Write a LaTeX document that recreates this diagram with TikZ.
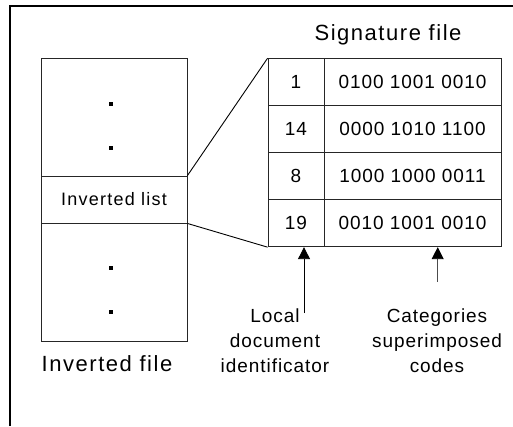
\documentclass[tikz,border=0pt]{standalone}
\usepackage{fontspec}
\setmainfont{Liberation Sans}
\newfontfamily\bigsp[LetterSpace=7]{Liberation Sans}
\newfontfamily\midsp[LetterSpace=5]{Liberation Sans}
\newfontfamily\listsp[LetterSpace=7]{Liberation Sans}
\usetikzlibrary{arrows.meta}
\begin{document}
\begin{tikzpicture}[x=1pt,y=-1pt,
  boxline/.style={draw=black!85, line width=0.9pt},
  filepart/.style={boxline, minimum width=146pt, inner sep=0pt},
  idcell/.style={boxline, minimum width=56pt, minimum height=47pt, inner sep=0pt, font=\fontsize{19}{23}\midsp},
  codecell/.style={boxline, minimum width=177pt, minimum height=47pt, inner sep=0pt, font=\fontsize{19}{23}\midsp},
  dotmark/.style={fill=black, minimum size=4pt, inner sep=0pt},
  title/.style={font=\fontsize{22}{26}\bigsp, inner sep=0pt},
  caption/.style={font=\fontsize{19}{25}\midsp, align=center, inner sep=0pt},
  zoomline/.style={draw=black, line width=0.9pt},
  pointer/.style={draw=black, line width=0.9pt, -{Triangle[width=12pt,length=12pt,color=black]}}
]
\useasboundingbox (0,0) rectangle (513,426);
% outer frame (top and left only)
\draw[line width=2pt] (10,426) -- (10,5.8) -- (513,5.8);

% inverted file
\node[filepart, minimum height=118pt] (top) at (114,117) {};
\node[filepart, minimum height=47pt, font=\fontsize{18}{22}\listsp] (list) at (114,199.5) {Inverted list};
\node[filepart, minimum height=118pt] (bot) at (114,282) {};
\node[dotmark] (d1) at (111,104) {};
\node[dotmark] (d2) at (111,147.5) {};
\node[dotmark] (d3) at (111,268) {};
\node[dotmark] (d4) at (111,312) {};
\node[title] (ifl) at (107,364) {Inverted file};

% signature file
\node[title] (sfl) at (388,35) {Signature file};
\node[idcell] (i1) at (296,82.2) {1};
\node[idcell] (i2) at (296,129.2) {14};
\node[idcell] (i3) at (296,176.2) {8};
\node[idcell] (i4) at (296,223.2) {19};
\node[codecell] (c1) at (412.5,82.2) {0100 1001 0010};
\node[codecell] (c2) at (412.5,129.2) {0000 1010 1100};
\node[codecell] (c3) at (412.5,176.2) {1000 1000 0011};
\node[codecell] (c4) at (412.5,223.2) {0010 1001 0010};

% zoom lines
\draw[zoomline] (list.north east) -- (i1.north west);
\draw[zoomline] (list.south east) -- (i4.south west);

% captions and pointers
\node[caption] (loc) at (275,341) {Local\\document\\identificator};
\node[caption] (cat) at (437,341) {Categories\\superimposed\\codes};
\coordinate (p1) at (304,313);
\coordinate (p2) at (437.7,281.7);
\draw[pointer] (p1) -- (p1 |- i4.south);
\draw[pointer, draw=black!70] (p2) -- (p2 |- c4.south);
\end{tikzpicture}
\end{document}
